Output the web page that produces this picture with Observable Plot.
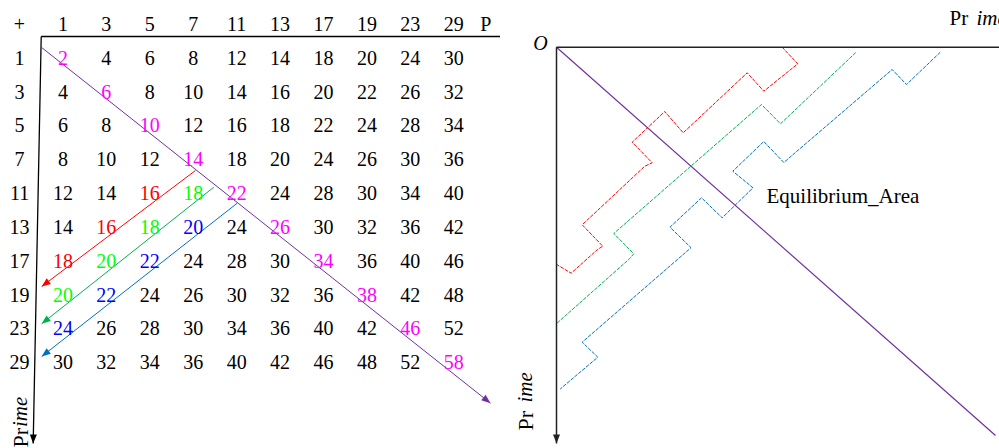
<!DOCTYPE html>
<html><head><meta charset="utf-8">
<script src="https://cdn.jsdelivr.net/npm/d3@7"></script>
<script src="https://cdn.jsdelivr.net/npm/@observablehq/plot@0.6"></script>
<style>
html,body{margin:0;padding:0;background:#fff;overflow:hidden;}
#wrap{display:flex;width:999px;height:448px;overflow:hidden;}
#wrap svg{flex:none;}
</style></head><body><div id="wrap"></div>
<script>
// ---------- data: left panel (addition table of primes) ----------
const colPrimes = ["1","3","5","7","11","13","17","19","23","29"];
const rowPrimes = ["1","3","5","7","11","13","17","19","23","29"];
const sumRows = [
  [2,4,6,8,12,14,18,20,24,30],
  [4,6,8,10,14,16,20,22,26,32],
  [6,8,10,12,16,18,22,24,28,34],
  [8,10,12,14,18,20,24,26,30,36],
  [12,14,16,18,22,24,28,30,34,40],
  [14,16,18,20,24,26,30,32,36,42],
  [18,20,22,24,28,30,34,36,40,46],
  [20,22,24,26,30,32,36,38,42,48],
  [24,26,28,30,34,36,40,42,46,52],
  [30,32,34,36,40,42,46,48,52,58]
];
// highlighted cells: [rowIndex, colIndex]
const magentaCells = [[0,0],[1,1],[2,2],[3,3],[4,4],[5,5],[6,6],[7,7],[8,8],[9,9]];
const redCells = [[4,2],[5,1],[6,0]];
const greenCells = [[4,3],[5,2],[6,1],[7,0]];
const blueCells = [[5,3],[6,2],[7,1],[8,0]];
// lines of the left panel, in table (column, row) units
const tableTopAxis = [[0.5,0.355],[11.1,0.355]];
const tableLeftAxis = [[0.5,0.355],[0.315,12.385]];
const tableDiagonal = [[0.5,0.67],[10.845,11.194]];
const tableRedArrow = [[4.052,4.316],[0.51,7.745]];
const tableGreenArrow = [[4.474,4.809],[0.51,8.847]];
const tableBlueArrow = [[5.013,5.282],[0.51,9.814]];

// ---------- data: right panel (offsets from origin O) ----------
const redStep = [[225.7,0],[241.3,16.6],[207.3,44],[190.7,25.6],[126.7,85.6],[108.3,64.3],[75.7,95],[95.7,115.6],[88.3,119],[25.7,177.6],[46.3,199],[40.7,202.6],[14.7,226],[0.7,217.6]];
const greenStep = [[299,5.6],[224,76.6],[205,57.3],[57.3,186.3],[77.3,206.6],[73,211.6],[0.7,275.8]];
const blueStep = [[383.5,5.3],[350,37.3],[335.7,22.3],[227.3,115.3],[207.3,94.3],[176.3,124],[196.5,140.6],[165.7,170.6],[145,150.6],[113.5,180],[134.5,200.5],[25.7,295],[41.3,310],[4,341.6]];
const equilibriumLine = [[0,0],[439,388.3]];
const rightTopAxis = [[0,0],[443,0]];
const rightLeftAxis = [[0,0],[0,396.3]];

const SERIF = "'Liberation Serif','Times New Roman',Times,serif";
const PURPLE = "#7030A0";

function triangleMarker(len, half) {
  return (color, context) => {
    const doc = (context && context.document) || document;
    const ns = "http://www.w3.org/2000/svg";
    const m = doc.createElementNS(ns, "marker");
    m.setAttribute("viewBox", `${-len} ${-half} ${len} ${2*half}`);
    m.setAttribute("markerWidth", len);
    m.setAttribute("markerHeight", 2*half);
    m.setAttribute("markerUnits", "userSpaceOnUse");
    m.setAttribute("orient", "auto");
    m.setAttribute("refX", 0);
    m.setAttribute("refY", 0);
    m.setAttribute("overflow", "visible");
    const p = doc.createElementNS(ns, "path");
    p.setAttribute("d", `M${-len},${-half}L0,0L${-len},${half}Z`);
    p.setAttribute("fill", color);
    p.setAttribute("stroke", "none");
    m.appendChild(p);
    return m;
  };
}

function cellColor(r, c) {
  const has = (list) => list.some(([a, b]) => a === r && b === c);
  if (has(magentaCells)) return "#FF00FF";
  if (has(redCells)) return "#FF0000";
  if (has(greenCells)) return "#00FF00";
  if (has(blueCells)) return "#0000FF";
  return "#000000";
}

const cells = [];
sumRows.forEach((row, r) => row.forEach((v, c) => cells.push({col: c + 1, row: r + 1, text: String(v), color: cellColor(r, c)})));

const seg = (pts) => ({x1: pts[0][0], y1: pts[0][1], x2: pts[1][0], y2: pts[1][1]});

const left = Plot.plot({
  width: 500, height: 448, margin: 0,
  x: {type: "linear", domain: [0, 10], range: [19, 453.3], axis: null},
  y: {type: "linear", domain: [0, 10], range: [24, 362.3], axis: null},
  color: {type: "identity"},
  style: {fontFamily: SERIF, background: "white", overflow: "visible"},
  marks: [
    Plot.link([seg(tableTopAxis)], {x1: "x1", y1: "y1", x2: "x2", y2: "y2", stroke: "#000", strokeWidth: 1.3}),
    Plot.link([seg(tableLeftAxis)], {x1: "x1", y1: "y1", x2: "x2", y2: "y2", stroke: "#000", strokeWidth: 1.3, markerEnd: triangleMarker(9, 3.5)}),
    Plot.link([seg(tableDiagonal)], {x1: "x1", y1: "y1", x2: "x2", y2: "y2", stroke: PURPLE, strokeWidth: 1, markerEnd: triangleMarker(9, 3.5)}),
    Plot.link([seg(tableRedArrow)], {x1: "x1", y1: "y1", x2: "x2", y2: "y2", stroke: "#FF0000", strokeWidth: 1, markerEnd: triangleMarker(9, 3.5)}),
    Plot.link([seg(tableGreenArrow)], {x1: "x1", y1: "y1", x2: "x2", y2: "y2", stroke: "#00B050", strokeWidth: 1, markerEnd: triangleMarker(9, 3.5)}),
    Plot.link([seg(tableBlueArrow)], {x1: "x1", y1: "y1", x2: "x2", y2: "y2", stroke: "#0070C0", strokeWidth: 1, markerEnd: triangleMarker(9, 3.5)}),
    Plot.text(["+"], {x: 0, y: 0, text: d => d, fontSize: 20, fill: "#000"}),
    Plot.text(colPrimes, {x: (d, i) => i + 1, y: 0, text: d => d, fontSize: 20, fill: "#000"}),
    Plot.text(["P"], {x: 10, y: 0, dx: 32, text: d => d, fontSize: 20, fill: "#000"}),
    Plot.text(rowPrimes, {x: 0, y: (d, i) => i + 1, text: d => d, fontSize: 20, fill: "#000"}),
    Plot.text(cells, {x: "col", y: "row", text: "text", fill: "color", fontSize: 20}),
    Plot.text(["Pr"], {x: 0.023, y: 12.5, text: d => d, rotate: -90, textAnchor: "start", fontSize: 22, fill: "#000"}),
    Plot.text(["ime"], {x: 0.023, y: 11.9, text: d => d, rotate: -90, textAnchor: "start", fontSize: 21, fontStyle: "italic", fill: "#000"})
  ]
});

const right = Plot.plot({
  width: 499, height: 448, margin: 0,
  x: {type: "linear", domain: [0, 443], range: [56, 499], axis: null},
  y: {type: "linear", domain: [0, 401.3], range: [46.7, 448], axis: null},
  style: {fontFamily: SERIF, background: "white", overflow: "visible"},
  marks: [
    Plot.line(redStep, {x: d => d[0], y: d => d[1], stroke: "#FF0000", strokeWidth: 1, strokeDasharray: "3,2"}),
    Plot.line(greenStep, {x: d => d[0], y: d => d[1], stroke: "#00B050", strokeWidth: 1, strokeDasharray: "3,2"}),
    Plot.line(blueStep, {x: d => d[0], y: d => d[1], stroke: "#0070C0", strokeWidth: 1, strokeDasharray: "3,2"}),
    Plot.link([seg(equilibriumLine)], {x1: "x1", y1: "y1", x2: "x2", y2: "y2", stroke: PURPLE, strokeWidth: 1.2}),
    Plot.link([seg(rightTopAxis)], {x1: "x1", y1: "y1", x2: "x2", y2: "y2", stroke: "#222", strokeWidth: 1.5}),
    Plot.link([seg(rightLeftAxis)], {x1: "x1", y1: "y1", x2: "x2", y2: "y2", stroke: "#222", strokeWidth: 1.5, markerEnd: triangleMarker(9, 3.5)}),
    Plot.text(["O"], {x: -16, y: -3.2, text: d => d, fontSize: 20, fontStyle: "italic", fill: "#000"}),
    Plot.text(["Pr"], {x: 393, y: -28.7, text: d => d, textAnchor: "start", fontSize: 21, fill: "#000"}),
    Plot.text(["ime"], {x: 420, y: -28.7, text: d => d, textAnchor: "start", fontSize: 21, fontStyle: "italic", fill: "#000"}),
    Plot.text(["Equilibrium_Area"], {x: 210, y: 149.3, text: d => d, textAnchor: "start", fontSize: 21, fill: "#000"}),
    Plot.text(["Pr"], {x: -31, y: 383.3, text: d => d, rotate: -90, textAnchor: "start", fontSize: 22, fill: "#000"}),
    Plot.text(["ime"], {x: -31, y: 355.3, text: d => d, rotate: -90, textAnchor: "start", fontSize: 21, fontStyle: "italic", fill: "#000"})
  ]
});

document.getElementById("wrap").append(left, right);
</script></body></html>
